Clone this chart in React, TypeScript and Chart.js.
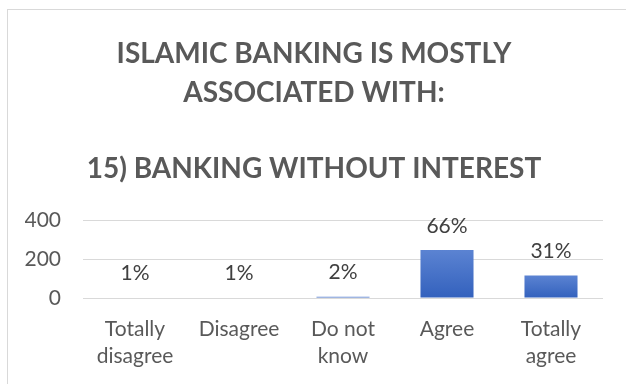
import React, { useEffect, useRef } from "react";
import { Chart, registerables } from "chart.js";

Chart.register(...registerables);

const titleLines = ["ISLAMIC BANKING IS MOSTLY", "ASSOCIATED WITH:", "", "15) BANKING WITHOUT INTEREST"];
const categories: (string | string[])[] = [["Totally", "disagree"], "Disagree", ["Do not", "know"], "Agree", ["Totally", "agree"]];
const counts = [3, 3, 7, 247, 116];
const percentLabels = ["1%", "1%", "2%", "66%", "31%"];
const yTicks = [0, 200, 400];

const FONT = "Lato, 'Open Sans', sans-serif";

const dataLabelPlugin = {
  id: "dataLabels",
  afterDatasetsDraw(chart: any) {
    const ctx = chart.ctx;
    const meta = chart.getDatasetMeta(0);
    ctx.save();
    ctx.font = `21px ${FONT}`;
    ctx.fillStyle = "#404040";
    ctx.textAlign = "center";
    ctx.textBaseline = "middle";
    meta.data.forEach((bar: any, i: number) => {
      ctx.fillText(percentLabels[i], bar.x, bar.y - 24);
    });
    ctx.restore();
  },
};

export default function App() {
  const ref = useRef<HTMLCanvasElement | null>(null);
  useEffect(() => {
    if (!ref.current) return;
    const chart = new Chart(ref.current, {
      type: "bar",
      data: {
        labels: categories,
        datasets: [
          {
            data: counts,
            backgroundColor: (c: any) => {
              const ch = c.chart;
              const ys = ch.scales && ch.scales.y;
              if (!ys || c.parsed == null) return "#4472C4";
              const top = ys.getPixelForValue(c.parsed.y);
              const bottom = ys.getPixelForValue(0);
              if (!isFinite(top) || !isFinite(bottom) || bottom - top < 1) return "#4a78cc";
              const g = ch.ctx.createLinearGradient(0, top, 0, bottom);
              g.addColorStop(0, "#5b83d2");
              g.addColorStop(1, "#3361bd");
              return g;
            },
            borderWidth: 0,
            categoryPercentage: 1,
            barPercentage: 0.51,
          },
        ],
      },
      options: {
        responsive: false,
        animation: false,
        devicePixelRatio: 1,
        layout: { padding: { left: 25, right: 23, top: 0, bottom: 0 } },
        plugins: {
          legend: { display: false },
          tooltip: { enabled: false },
          title: {
            display: true,
            text: titleLines,
            color: "#595959",
            font: { family: FONT, size: 28, weight: "bold", lineHeight: 1.37 },
            padding: { top: 35, bottom: 32 },
          },
        },
        scales: {
          x: {
            afterFit: (s: any) => {
              s.height = 86;
            },
            grid: { display: false },
            border: { display: false },
            ticks: {
              color: "#595959",
              font: { family: FONT, size: 21, lineHeight: 1.29 },
              padding: 10,
              maxRotation: 0,
              autoSkip: false,
            },
          },
          y: {
            min: 0,
            max: 400,
            afterFit: (s: any) => {
              s.width = 58;
            },
            afterBuildTicks: (s: any) => {
              s.ticks = yTicks.map((v) => ({ value: v }));
            },
            grid: { color: "#d9d9d9", lineWidth: 1, drawTicks: false },
            border: { display: false },
            ticks: {
              color: "#595959",
              font: { family: FONT, size: 21 },
              padding: 22,
            },
          },
        },
      },
      plugins: [dataLabelPlugin],
    } as any);
    return () => chart.destroy();
  }, []);

  return (
    <div style={{ position: "absolute", left: 0, top: 0, width: 626, height: 384, overflow: "hidden", background: "#fff" }}>
      <div
        style={{
          position: "absolute",
          left: 7,
          top: 9,
          width: 619,
          height: 375,
          borderTop: "1px solid #d9d9d9",
          borderLeft: "1px solid #d9d9d9",
          boxSizing: "border-box",
        }}
      />
      <canvas ref={ref} width={626} height={384} style={{ position: "absolute", left: 0, top: 0 }} />
    </div>
  );
}
